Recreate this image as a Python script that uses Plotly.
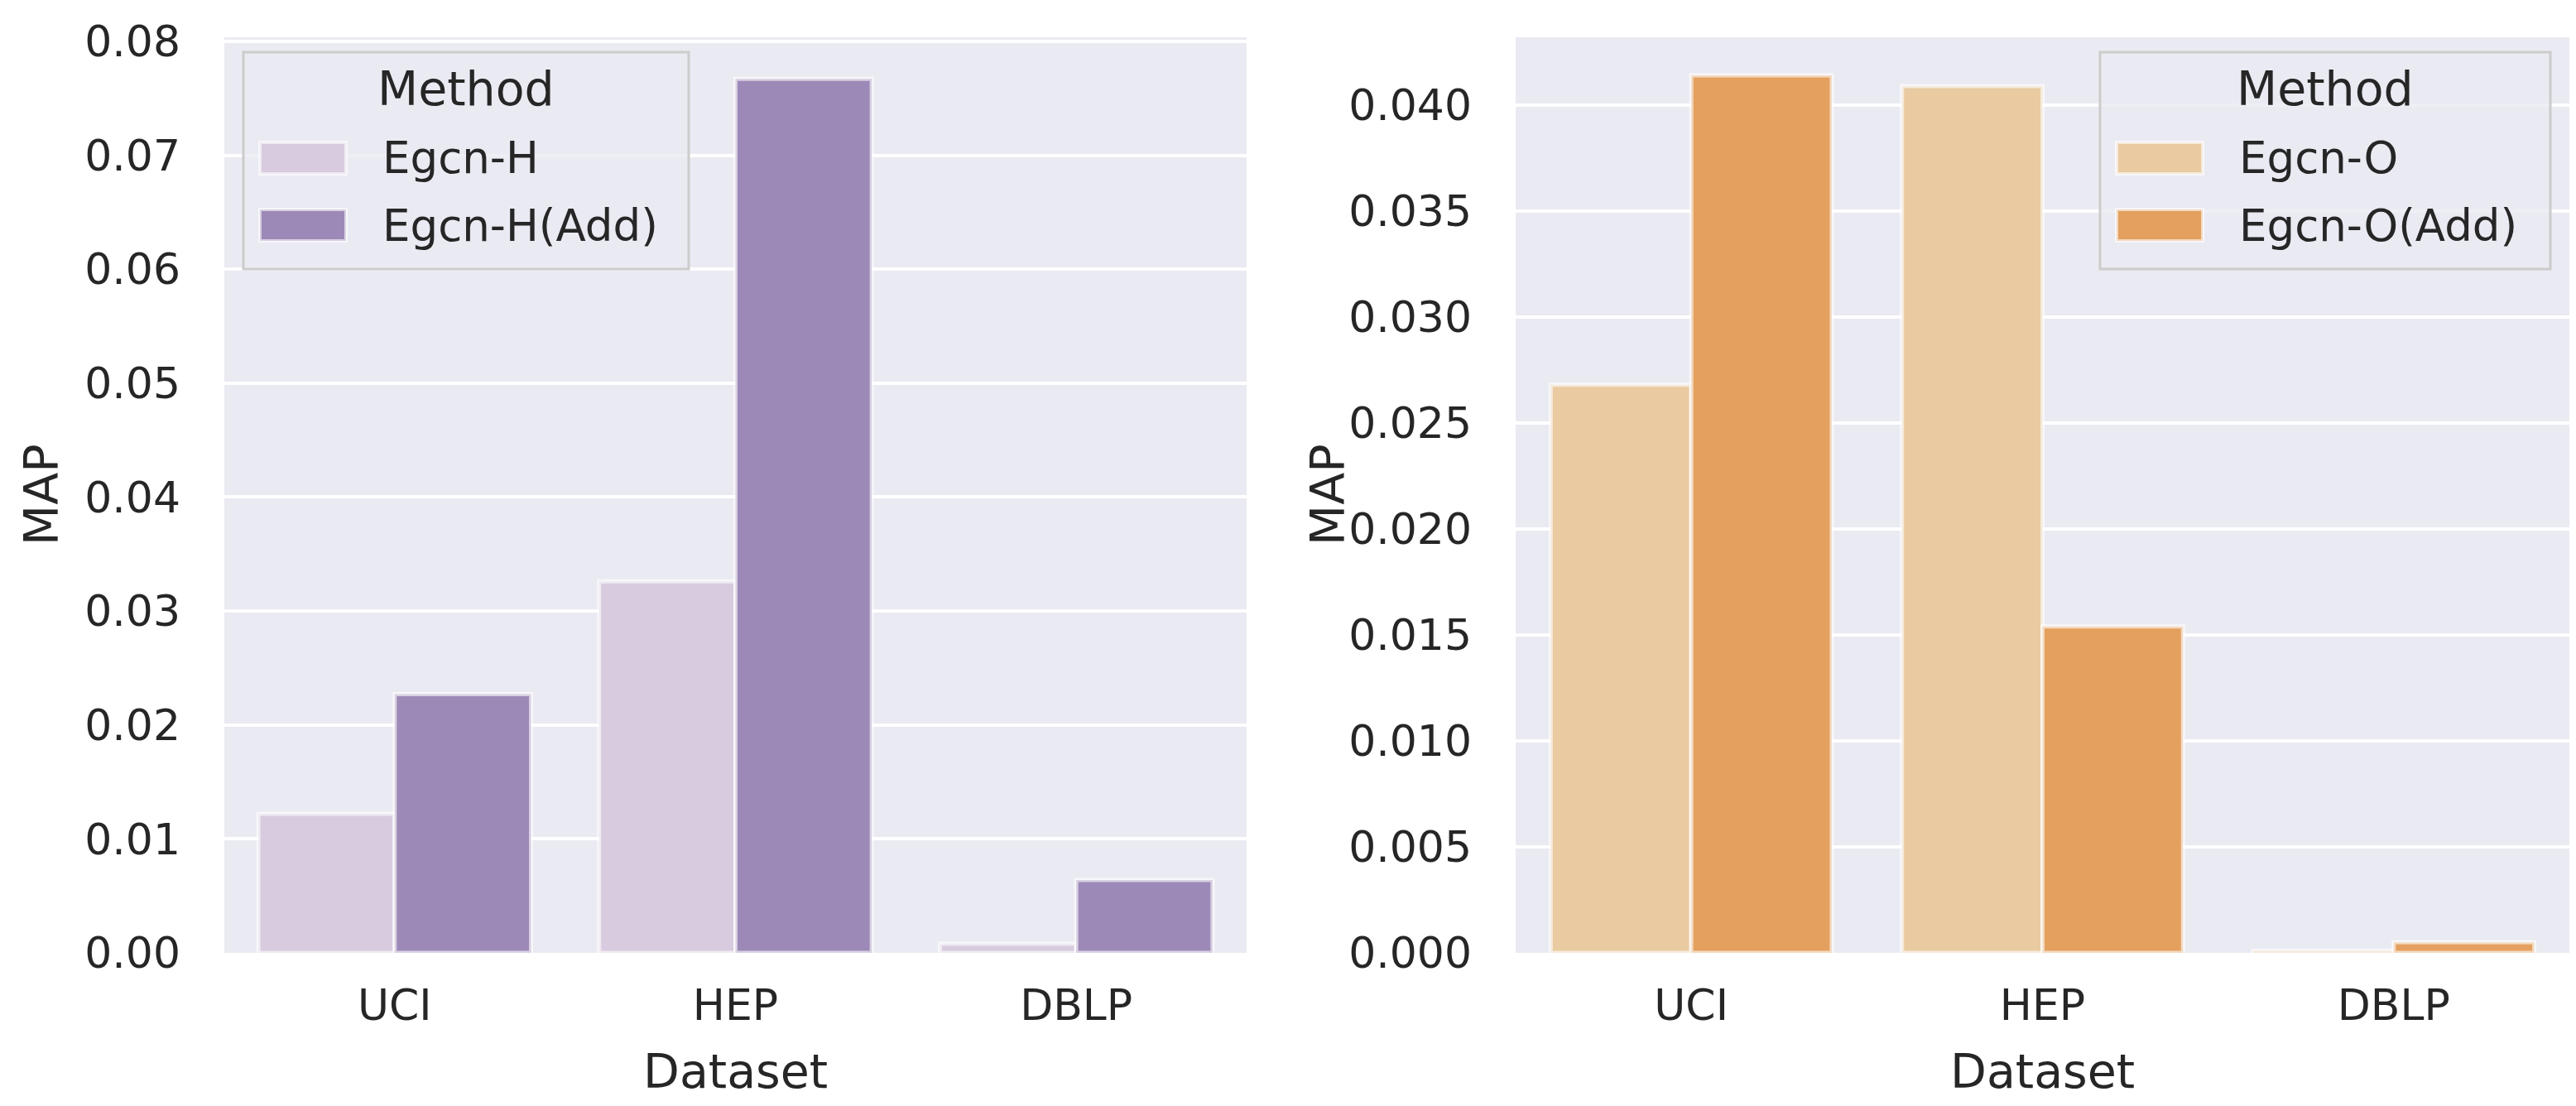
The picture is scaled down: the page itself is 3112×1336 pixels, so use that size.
import plotly.graph_objects as go

W, H = 3112, 1336

datasets = ["UCI", "HEP", "DBLP"]

# left panel: Egcn-H
egcn_h = [0.0122, 0.0326, 0.0008]
egcn_h_add = [0.0227, 0.0767, 0.0064]

# right panel: Egcn-O
egcn_o = [0.0268, 0.0409, 0.0001]
egcn_o_add = [0.0414, 0.0154, 0.0005]

left_ticks = [0.0, 0.01, 0.02, 0.03, 0.04, 0.05, 0.06, 0.07, 0.08]
right_ticks = [0.0, 0.005, 0.01, 0.015, 0.02, 0.025, 0.03, 0.035, 0.04]

purple_light = "#d8cbdf"
purple_dark = "#9d89b7"
orange_light = "#e9caa1"
orange_dark = "#e3a05f"

TXT = "#262626"
FONT = "DejaVu Sans"


def px(x):
    return x / W


def py(y):
    return 1 - y / H


edge = dict(color="rgba(255,255,255,0.6)", width=5)

fig = go.Figure()
fig.add_trace(go.Bar(x=datasets, y=egcn_h, name="Egcn-H", marker_color=purple_light,
                     marker_line=edge, xaxis="x", yaxis="y"))
fig.add_trace(go.Bar(x=datasets, y=egcn_h_add, name="Egcn-H(Add)", marker_color=purple_dark,
                     marker_line=edge, xaxis="x", yaxis="y"))
fig.add_trace(go.Bar(x=datasets, y=egcn_o, name="Egcn-O", marker_color=orange_light,
                     marker_line=edge, xaxis="x2", yaxis="y2"))
fig.add_trace(go.Bar(x=datasets, y=egcn_o_add, name="Egcn-O(Add)", marker_color=orange_dark,
                     marker_line=edge, xaxis="x2", yaxis="y2"))

# plot areas in pixels
L = (263, 1498)
R = (1823, 3096)
top, bottom = 37, 1143
ydom = [py(bottom), py(top)]

xcommon = dict(range=[-0.5, 2.5], showgrid=False, zeroline=False, showline=False,
               ticks="", tickfont=dict(size=52, color=TXT, family=FONT),
               ticklabelstandoff=28, automargin=False)
ycommon = dict(showgrid=True, gridcolor="white", gridwidth=4, zeroline=False,
               showline=False, ticks="", tickfont=dict(size=52, color=TXT, family=FONT),
               ticklabelstandoff=52, automargin=False)

fig.update_layout(
    width=W, height=H,
    margin=dict(l=0, r=0, t=0, b=0, autoexpand=False),
    paper_bgcolor="white",
    plot_bgcolor="#eaeaf2",
    barmode="group", bargap=0.2, bargroupgap=0,
    showlegend=False,
    font=dict(family=FONT, color=TXT),
    xaxis=dict(domain=[px(L[0]), px(L[1])], anchor="y", **xcommon),
    xaxis2=dict(domain=[px(R[0]), px(R[1])], anchor="y2", **xcommon),
    yaxis=dict(domain=ydom, anchor="x", range=[0, 0.08036], tickvals=left_ticks,
               tickformat=".2f", **ycommon),
    yaxis2=dict(domain=ydom, anchor="x2", range=[0, 0.0432], tickvals=right_ticks,
                tickformat=".3f", **ycommon),
)

# axis titles
for xc in [px((L[0] + L[1]) / 2), px((R[0] + R[1]) / 2)]:
    fig.add_annotation(text="Dataset", x=xc, y=py(1286), xref="paper", yref="paper",
                       showarrow=False, xanchor="center", yanchor="middle",
                       font=dict(size=57, color=TXT, family=FONT))
for xc in [px(42), px(1596)]:
    fig.add_annotation(text="MAP", x=xc, y=py((top + bottom) / 2), xref="paper", yref="paper",
                       showarrow=False, textangle=-90, xanchor="center", yanchor="middle",
                       font=dict(size=57, color=TXT, family=FONT))


# hand-drawn legends (seaborn style, big swatches)
def legend(x0, x1, items):
    fig.add_shape(type="rect", xref="paper", yref="paper",
                  x0=px(x0), x1=px(x1), y0=py(317), y1=py(55),
                  line=dict(color="#cccccc", width=3), fillcolor="rgba(234,234,242,0.8)")
    fig.add_annotation(text="Method", x=px((x0 + x1) / 2), y=py(99), xref="paper", yref="paper",
                       showarrow=False, xanchor="center", yanchor="middle",
                       font=dict(size=57, color=TXT, family=FONT))
    for (name, color), yc in zip(items, [183, 264]):
        fig.add_shape(type="rect", xref="paper", yref="paper",
                      x0=px(x0 + 20), x1=px(x0 + 124), y0=py(yc + 19), y1=py(yc - 19),
                      line=dict(color="rgba(255,255,255,0.6)", width=4), fillcolor=color)
        fig.add_annotation(text=name, x=px(x0 + 166), y=py(yc), xref="paper", yref="paper",
                           showarrow=False, xanchor="left", yanchor="middle",
                           font=dict(size=53, color=TXT, family=FONT))


legend(286, 824, [("Egcn-H", purple_light), ("Egcn-H(Add)", purple_dark)])
legend(2529, 3073, [("Egcn-O", orange_light), ("Egcn-O(Add)", orange_dark)])

fig.write_html("out.html")
